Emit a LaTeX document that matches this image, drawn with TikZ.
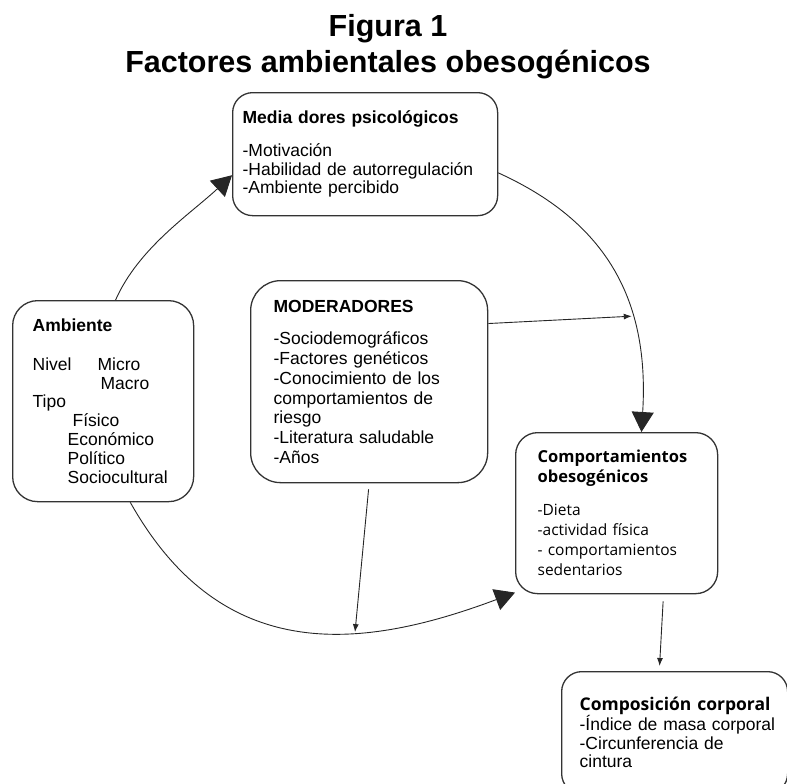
\documentclass[tikz,border=0pt]{standalone}
\usepackage{fontspec}
\setmainfont{Liberation Sans}
\newfontfamily\opensans{Open Sans}
\usetikzlibrary{arrows.meta}
\tikzset{
  caja/.style={draw=black!80, line width=1.3pt, rounded corners=22pt, anchor=north west, align=left, inner ysep=0pt},
  conector/.style={line width=0.9pt, draw=black!85, -{Triangle[length=20pt,width=22pt]}},
  flecha/.style={line width=0.9pt, draw=black!85, -{Latex[length=8pt,width=6pt]}}
}
\begin{document}
\begin{tikzpicture}[x=1pt,y=-1pt]
	\useasboundingbox (0,0) rectangle (787,784);
	\clip (0,0) rectangle (787,784);
	% titulo
	\node[font=\fontsize{30.5}{36}\selectfont\bfseries, align=center, anchor=north, inner sep=0pt] (titulo) at (388,14) {Figura 1\\Factores ambientales obesogénicos};
	% cajas
	\node[caja, rounded corners=20pt, text width=245pt, inner xsep=10pt, minimum height=123pt, font=\fontsize{17.5}{18.6}\selectfont] (med) at (232,92)
		{\textbf{Media dores psicológicos}\\[14pt]-Motivación\\-Habilidad de autorregulación\\-Ambiente percibido};
	\node[caja, rounded corners=25pt, text width=141pt, inner xsep=20pt, minimum height=201pt, font=\fontsize{17.5}{18.9}\selectfont] (amb) at (12,300)
		{\textbf{Ambiente}\\[20pt]\makebox[65pt][l]{Nivel}Micro\\\hspace*{68pt}Macro\\Tipo\\\hspace*{40pt}Físico\\\hspace*{35pt}Económico\\\hspace*{35pt}Político\\\hspace*{35pt}Sociocultural};
	\node[caja, rounded corners=30pt, text width=191pt, inner xsep=23pt, minimum height=202pt, font=\fontsize{17.5}{19.7}\selectfont] (mod) at (250,280)
		{\textbf{MODERADORES}\\[13pt]-Sociodemográficos\\-Factores genéticos\\-Conocimiento de los\\comportamientos de\\riesgo\\-Literatura saludable\\-Años};
	\node[caja, text width=158pt, inner xsep=22pt, minimum height=161pt, font=\opensans\fontsize{15.5}{20}\selectfont] (comp) at (515,432)
		{{\fontsize{16.5}{20}\selectfont\bfseries Comportamientos\\obesogénicos}\\[13pt]-Dieta\\-actividad física\\- comportamientos\\sedentarios};
	\node[caja, rounded corners=20pt, text width=190pt, inner xsep=18pt, minimum height=122pt, font=\fontsize{17.5}{18.5}\selectfont] (compo) at (561,671)
		{\mbox{\opensans\fontsize{17.5}{18.5}\selectfont\bfseries Composición corporal}\\\mbox{-Índice de masa corporal}\\-Circunferencia de\\cintura};
	% ciclo
	\draw[conector] (amb.83) .. controls +(23,-52) and +(-42,39) .. (med.189);
	\draw[conector] (med.352) .. controls +(110,50) and +(8,-130) .. (comp.73) coordinate[pos=0.66] (pDer);
	\draw[conector] (amb.285) .. controls +(90,160) and +(-160,60) .. (comp.218) coordinate[pos=0.645] (pInf);
	% moderadores y salida
	\draw[flecha] (mod.26) -- (pDer);
	\draw[flecha, shorten <=6pt] (mod.south) -- (pInf);
	\draw[flecha, shorten <=7pt, shorten >=5pt] (comp.300) -- (compo.104);
\end{tikzpicture}
\end{document}
